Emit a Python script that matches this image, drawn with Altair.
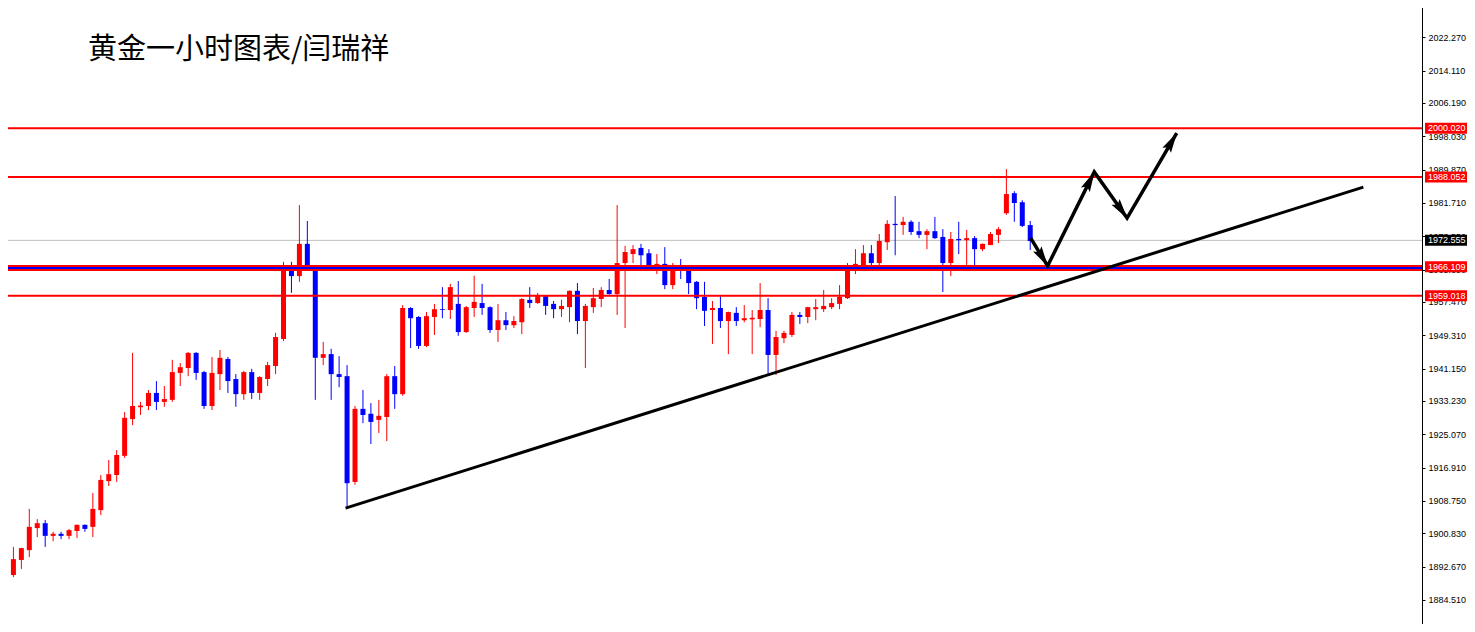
import math
import altair as alt
import pandas as pd

# ---- OHLC data (hourly gold) ----
opens = [1893.8, 1890.6, 1894.3, 1896.7, 1902.1, 1903.3, 1900.2, 1900.7, 1900.2, 1901.4,
         1902.9, 1902.4, 1906.5, 1913.6, 1915.1, 1919.8, 1928.8, 1931.7, 1932.0, 1935.2,
         1933.0, 1933.5, 1940.1, 1941.3, 1945.0, 1940.3, 1932.0, 1939.8, 1943.5, 1938.6,
         1934.9, 1940.3, 1935.2, 1938.6, 1941.8, 1948.4, 1965.1, 1963.8, 1971.7, 1965.8,
         1943.8, 1944.7, 1939.8, 1939.3, 1913.4, 1931.3, 1930.1, 1928.6, 1929.3, 1939.3,
         1934.9, 1956.0, 1953.8, 1946.7, 1953.8, 1955.7, 1955.5, 1957.0, 1950.1, 1956.0,
         1957.2, 1956.2, 1950.6, 1953.0, 1951.8, 1952.5, 1958.0, 1957.2, 1958.9, 1957.0,
         1955.7, 1956.2, 1960.2, 1952.8, 1956.2, 1958.2, 1960.4, 1959.4, 1967.0, 1969.2,
         1970.7, 1969.4, 1966.4, 1966.8, 1961.6, 1966.5, 1966.0, 1962.4, 1958.7, 1955.5,
         1956.0, 1952.8, 1954.8, 1953.0, 1953.2, 1953.3, 1955.5, 1944.5, 1948.6, 1949.4,
         1954.3, 1953.8, 1955.7, 1955.7, 1956.2, 1957.0, 1958.4, 1965.5, 1966.3, 1969.4,
         1967.0, 1972.1, 1976.6, 1976.3, 1977.1, 1974.8, 1973.9, 1974.8, 1973.4, 1967.0,
         1972.9, 1972.6, 1973.1, 1970.4, 1971.4, 1973.9, 1979.2, 1984.1, 1981.9, 1976.3]
highs = [1894.8, 1897.5, 1897.3, 1906.8, 1904.3, 1904.1, 1901.2, 1901.2, 1901.9, 1903.0,
         1903.0, 1910.7, 1915.1, 1918.8, 1921.2, 1930.5, 1945.0, 1933.0, 1935.9, 1938.1,
         1936.9, 1943.3, 1942.5, 1945.2, 1945.2, 1940.6, 1944.0, 1945.7, 1944.0, 1939.8,
         1940.6, 1941.1, 1939.3, 1942.8, 1949.9, 1967.3, 1967.3, 1981.2, 1977.3, 1966.3,
         1947.7, 1946.0, 1944.2, 1942.0, 1932.0, 1935.9, 1932.7, 1933.5, 1939.8, 1941.8,
         1956.7, 1956.2, 1954.0, 1955.0, 1957.0, 1961.1, 1961.9, 1962.6, 1956.5, 1963.9,
         1961.9, 1956.4, 1957.0, 1955.0, 1954.0, 1958.4, 1961.1, 1959.7, 1959.0, 1957.7,
         1958.0, 1960.3, 1962.1, 1957.0, 1960.9, 1961.1, 1963.1, 1981.2, 1971.2, 1971.4,
         1971.7, 1970.4, 1969.2, 1970.9, 1967.0, 1968.0, 1966.3, 1962.6, 1962.4, 1957.7,
         1958.9, 1955.1, 1956.2, 1956.7, 1955.5, 1962.1, 1958.4, 1950.4, 1950.4, 1955.0,
         1955.0, 1956.3, 1958.2, 1960.4, 1958.4, 1961.6, 1967.0, 1970.4, 1971.4, 1971.4,
         1974.1, 1977.5, 1983.4, 1978.3, 1977.5, 1977.1, 1975.3, 1978.3, 1975.3, 1974.6,
         1977.1, 1975.1, 1973.6, 1971.8, 1974.6, 1975.8, 1990.0, 1984.6, 1982.4, 1977.3]
lows = [1887.2, 1890.1, 1892.1, 1895.0, 1899.9, 1897.5, 1898.9, 1899.4, 1899.4, 1899.7,
        1901.2, 1899.9, 1905.3, 1912.4, 1913.4, 1919.3, 1927.3, 1929.8, 1931.0, 1931.0,
        1931.8, 1933.0, 1936.9, 1939.3, 1938.4, 1931.3, 1931.0, 1935.9, 1935.2, 1931.8,
        1933.5, 1933.7, 1933.5, 1936.9, 1939.8, 1947.9, 1959.7, 1962.4, 1965.3, 1933.5,
        1942.0, 1933.5, 1936.6, 1907.0, 1912.7, 1927.8, 1922.7, 1925.4, 1923.4, 1931.3,
        1934.5, 1946.2, 1946.0, 1946.4, 1949.4, 1953.5, 1953.3, 1949.2, 1949.9, 1953.8,
        1954.3, 1949.9, 1947.7, 1950.6, 1951.1, 1949.6, 1956.0, 1957.0, 1954.3, 1953.5,
        1953.8, 1952.5, 1949.6, 1941.3, 1954.8, 1956.2, 1959.3, 1954.3, 1951.1, 1967.0,
        1966.5, 1966.4, 1964.3, 1960.6, 1960.6, 1963.1, 1959.4, 1955.7, 1951.6, 1947.2,
        1951.1, 1944.7, 1951.6, 1952.5, 1944.7, 1951.3, 1939.8, 1939.6, 1947.4, 1948.9,
        1952.1, 1952.3, 1953.0, 1955.0, 1955.7, 1955.7, 1958.2, 1964.3, 1966.0, 1966.3,
        1966.5, 1970.2, 1968.9, 1973.9, 1973.9, 1973.1, 1970.4, 1972.9, 1959.9, 1963.8,
        1969.2, 1965.8, 1966.3, 1969.9, 1971.4, 1971.9, 1978.8, 1977.1, 1975.8, 1970.2]
closes = [1890.6, 1894.5, 1897.2, 1902.4, 1903.3, 1900.2, 1900.7, 1900.2, 1901.6, 1902.9,
          1901.9, 1906.8, 1913.9, 1915.3, 1920.0, 1929.1, 1932.0, 1932.1, 1935.2, 1933.0,
          1933.7, 1940.3, 1941.5, 1945.0, 1940.1, 1932.0, 1940.1, 1943.8, 1938.1, 1934.9,
          1940.3, 1935.2, 1939.1, 1942.0, 1948.9, 1965.3, 1963.8, 1971.7, 1965.8, 1943.8,
          1944.7, 1939.8, 1939.1, 1913.1, 1931.3, 1929.8, 1928.1, 1929.6, 1939.3, 1934.9,
          1956.0, 1953.5, 1946.7, 1954.0, 1955.7, 1955.5, 1961.1, 1950.1, 1956.2, 1957.5,
          1956.0, 1950.6, 1953.0, 1951.8, 1952.8, 1958.2, 1957.2, 1959.2, 1956.5, 1955.7,
          1956.5, 1960.2, 1952.8, 1956.5, 1958.4, 1960.4, 1959.4, 1967.0, 1969.7, 1970.4,
          1968.9, 1966.5, 1966.8, 1961.6, 1966.3, 1965.8, 1962.1, 1958.4, 1955.3, 1956.0,
          1952.8, 1955.0, 1952.8, 1953.5, 1953.6, 1955.5, 1944.5, 1948.9, 1949.9, 1954.3,
          1953.8, 1956.2, 1956.2, 1956.5, 1957.2, 1958.7, 1966.5, 1966.8, 1969.4, 1967.0,
          1972.4, 1976.6, 1976.3, 1977.1, 1974.6, 1973.9, 1974.8, 1973.1, 1967.0, 1972.9,
          1972.6, 1973.1, 1970.4, 1971.7, 1974.1, 1975.3, 1983.9, 1981.7, 1976.1, 1972.4]

# ---- horizontal levels ----
red_levels = [2000.020, 1988.052, 1959.018]
band_level = 1965.8
last_price = 1972.555
tag_values = [2000.020, 1988.052, 1972.555, 1966.109, 1959.018]
tag_colors = ["#ff0000", "#ff0000", "#000000", "#ff0000", "#ff0000"]

axis_ticks = [2030.43, 2022.27, 2014.11, 2006.19, 1998.03, 1989.87, 1981.71, 1973.55,
              1965.39, 1957.47, 1949.31, 1941.15, 1933.23, 1925.07, 1916.91, 1908.75,
              1900.83, 1892.67, 1884.51, 1876.35]

# ---- drawings ----
trend_idx = [42.81, 170.94]
trend_price = [1907.0, 1985.6]
arrow_idx = [129.06, 131.19, 137.06, 141.19, 147.44]
arrow_price = [1973.1, 1966.3, 1989.3, 1978.0, 1998.8]

title_text = "黄金一小时图表/闫瑞祥"

# ---- build tables ----
n = len(opens)
candles = pd.DataFrame({
    "idx": list(range(n)),
    "open": opens, "high": highs, "low": lows, "close": closes,
})
candles["dir"] = ["up" if c >= o else "down" for o, c in zip(opens, closes)]

PX_PER_IDX = 8.0
PX_PER_PRICE = 4.084
heads = []
for i in range(len(arrow_idx) - 1):
    dk = arrow_idx[i + 1] - arrow_idx[i]
    dp = arrow_price[i + 1] - arrow_price[i]
    sx, sy = dk * PX_PER_IDX, dp * PX_PER_PRICE
    L = math.hypot(sx, sy)
    ang = math.degrees(math.atan2(sx, sy)) % 360
    back = 11.0 / L
    heads.append({"idx": arrow_idx[i + 1] - dk * back,
                  "price": arrow_price[i + 1] - dp * back,
                  "angle": ang})
heads = pd.DataFrame(heads)

xscale = alt.Scale(domain=[-0.06, 177.69], nice=False, zero=False)
yscale = alt.Scale(domain=[1876.66, 2031.41], nice=False, zero=False)
yaxis = alt.Axis(values=axis_ticks, format=".3f", orient="right", title=None,
                 grid=False, domainColor="#000000", domainWidth=1,
                 tickColor="#000000", tickSize=3, labelPadding=3,
                 labelFont="Liberation Sans", labelFontSize=9, labelColor="#000000",
                 labelBaseline="middle", labelAlign="left")

X = alt.X("idx:Q", scale=xscale, axis=None)
colr = alt.Color("dir:N", scale=alt.Scale(domain=["up", "down"], range=["#ff0000", "#0000ff"]),
                 legend=None)

def Y(field):
    return alt.Y(field, scale=yscale, axis=yaxis)

grey = alt.Chart(pd.DataFrame({"price": [last_price]})).mark_rule(
    color="#c0c0c0", strokeWidth=1).encode(y=Y("price:Q"))

wicks = alt.Chart(candles).mark_rule(strokeWidth=1, clip=True).encode(
    x=X, y=Y("low:Q"), y2="high:Q", color=colr)
bodies = alt.Chart(candles).mark_bar(size=5, clip=True).encode(
    x=X, y=Y("open:Q"), y2="close:Q", color=colr)

band_red = alt.Chart(pd.DataFrame({"price": [band_level]})).mark_rule(
    color="#ff0000", strokeWidth=6).encode(y=Y("price:Q"))
band_blue = alt.Chart(pd.DataFrame({"price": [band_level]})).mark_rule(
    color="#0000ff", strokeWidth=2).encode(y=Y("price:Q"))
reds = alt.Chart(pd.DataFrame({"price": red_levels})).mark_rule(
    color="#ff0000", strokeWidth=2).encode(y=Y("price:Q"))

trend = alt.Chart(pd.DataFrame({"idx": trend_idx, "price": trend_price})).mark_line(
    color="#000000", strokeWidth=3, clip=True).encode(x=X, y=Y("price:Q"))
arrow = alt.Chart(pd.DataFrame({"idx": arrow_idx, "price": arrow_price})).mark_line(
    color="#000000", strokeWidth=3.5, strokeJoin="miter", clip=True).encode(x=X, y=Y("price:Q"))
arrow_heads = alt.Chart(heads).mark_point(
    shape="M0,-1L0.42,0.75L0,0.45L-0.42,0.75Z", filled=True, size=560, color="#000000",
    opacity=1, strokeWidth=0).encode(
    x=X, y=Y("price:Q"), angle=alt.Angle("angle:Q", scale=None))

tags_df = pd.DataFrame({"price": tag_values, "col": tag_colors,
                        "label": [f"{v:.3f}" for v in tag_values]})
tag_box = alt.Chart(tags_df).mark_rule(strokeWidth=11, strokeCap="butt").encode(
    x=alt.value(1425), x2=alt.value(1469), y=Y("price:Q"),
    color=alt.Color("col:N", scale=None))
tag_text = alt.Chart(tags_df).mark_text(
    align="left", baseline="middle", font="Liberation Sans", fontSize=9,
    color="#ffffff").encode(x=alt.value(1428), y=Y("price:Q"), text="label:N")

title = alt.Chart(pd.DataFrame({"t": [title_text]})).mark_text(
    align="left", baseline="middle", font="Noto Sans CJK SC", fontSize=29,
    color="#000000").encode(x=alt.value(88), y=alt.value(50), text="t:N")

chart = alt.layer(
    grey, wicks, bodies, band_red, band_blue, reds, trend, arrow, arrow_heads,
    tag_box, tag_text, title
).properties(
    width=1422, height=632,
    autosize=alt.AutoSizeParams(type="none"),
    padding={"left": -8, "top": -8, "right": 45, "bottom": -8},
    background="#ffffff",
).configure_view(stroke=None)

chart.save("out.html", embed_options={"renderer": "svg", "actions": False})
